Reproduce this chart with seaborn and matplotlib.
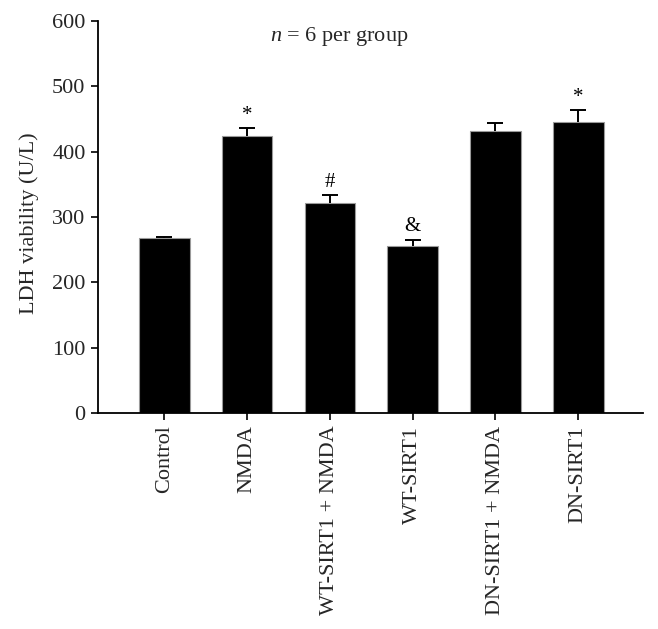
import matplotlib
matplotlib.use("Agg")
import matplotlib.pyplot as plt
import seaborn as sns
import pandas as pd

categories = ["Control", "NMDA", "WT-SIRT1 + NMDA", "WT-SIRT1", "DN-SIRT1 + NMDA", "DN-SIRT1"]
values = [267, 424, 321, 255, 431, 445]
errors = [2, 12, 12, 10, 13, 18]
marks = ["", "*", "#", "&", "", "*"]

sns.set_theme(style="ticks")
plt.rcParams['font.family'] = ['Liberation Serif', 'DejaVu Serif']
plt.rcParams['mathtext.fontset'] = 'custom'
plt.rcParams['mathtext.it'] = 'Liberation Serif:italic'
plt.rcParams['mathtext.rm'] = 'Liberation Serif'

df = pd.DataFrame({"group": categories, "ldh": values})

fig = plt.figure(figsize=(6.58, 6.29), dpi=100)
ax = fig.add_axes([0.149, 0.3434, 0.828, 0.6236])

sns.barplot(data=df, x="group", y="ldh", order=categories, color="black",
            edgecolor="#9a9a9a", linewidth=0.8, width=0.61, errorbar=None, ax=ax)

xs = [p.get_x() + p.get_width() / 2 for p in ax.patches]
cont = ax.errorbar(xs, values, yerr=[[0] * len(errors), errors], fmt="none",
                   ecolor="black", elinewidth=1.4, capsize=5.5, capthick=1.4)
caps = cont.lines[1]
if len(caps) == 2:
    caps[0].set_visible(False)

for x, v, e, m in zip(xs, values, errors, marks):
    if m:
        ax.text(x, v + e + 5, m, ha="center", va="bottom", fontsize=15, color="black")

ax.set_xlim(-0.8, 5.78)
ax.set_ylim(0, 600)
ax.set_yticks([0, 100, 200, 300, 400, 500, 600])
ax.set_xlabel("")
ax.set_ylabel("LDH viability (U/L)", fontsize=16)
ax.yaxis.set_label_coords(-0.108, 0.485)
ax.tick_params(axis="x", labelrotation=90, labelsize=16, length=5, width=1.2, color="black", pad=4)
ax.tick_params(axis="y", labelsize=16, length=5, width=1.2, color="black", pad=4)
for lab in ax.get_xticklabels():
    lab.set_va("top")
sns.despine(ax=ax)
for s in ["left", "bottom"]:
    ax.spines[s].set_linewidth(1.3)
    ax.spines[s].set_color("black")

ax.text(0.315, 0.96, r"$n$ = 6 per group", transform=ax.transAxes,
        ha="left", va="center", fontsize=16)

fig.savefig("out.png", dpi=100)
